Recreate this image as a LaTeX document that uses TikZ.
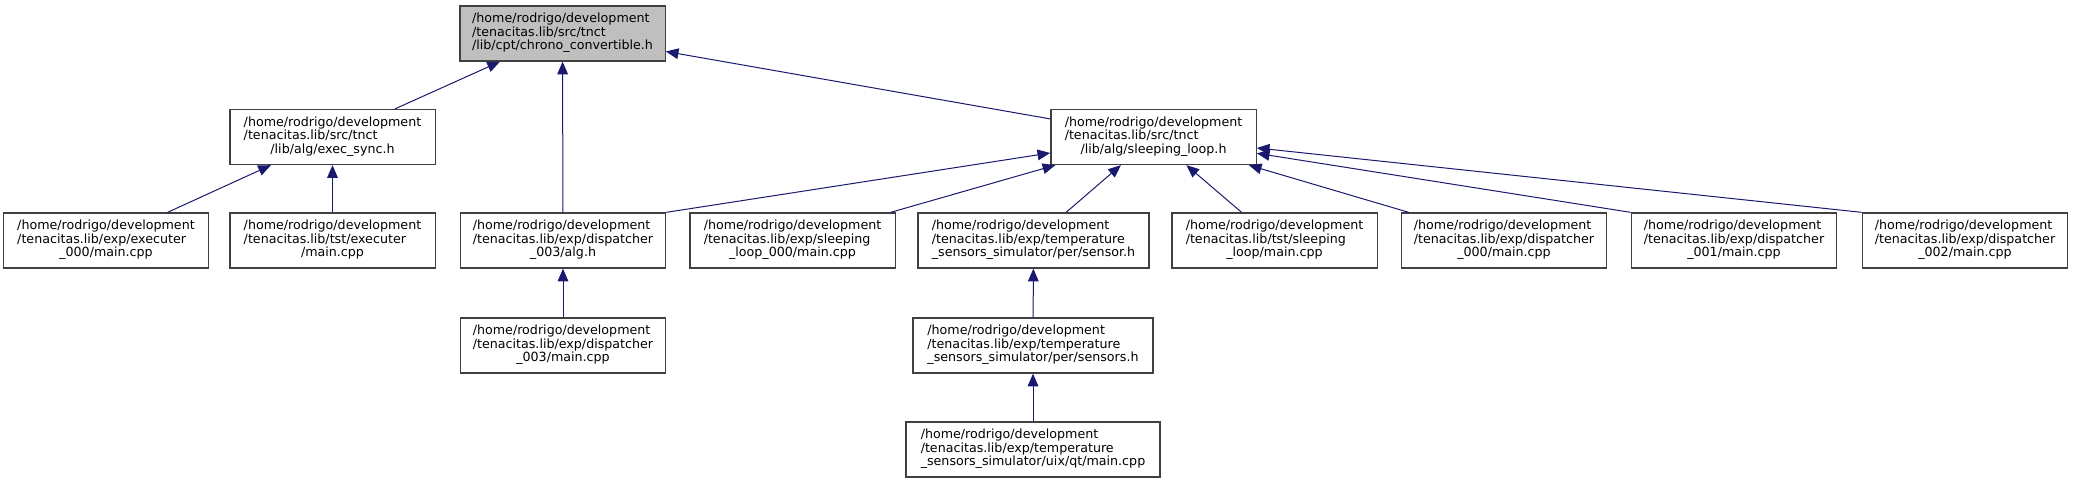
\documentclass[tikz,border=0pt]{standalone}
\usepackage{fontspec}
\setmainfont{DejaVu Sans}
\usepackage{tikz}
\usetikzlibrary{positioning, arrows.meta}

\definecolor{midnightblue}{HTML}{191970}
\definecolor{grey25}{HTML}{404040}
\definecolor{grey75}{HTML}{BFBFBF}

% three line file label: two left lines, last line centred
\newcommand{\flbl}[3]{\begin{tabular}{@{}l@{}}#1\\#2\\\multicolumn{1}{@{}c@{}}{#3}\end{tabular}}
\newcommand{\hm}{/home/rodrigo/development}

\begin{document}
\begin{tikzpicture}[
  x=0.75pt, y=-0.75pt,
  font=\fontsize{9.5}{9.6}\selectfont,
  file/.style={rectangle, draw=grey25, line width=1pt, fill=white, minimum width=154pt, minimum height=41.25pt, inner xsep=3pt, inner ysep=1pt},
  rootfile/.style={file, fill=grey75},
  dep/.style={draw=midnightblue, line width=0.75pt, -{Triangle[length=9.5pt, width=8pt]}}
]
  \useasboundingbox (0,0) rectangle (2074,483);

  % top
  \node[rootfile] (root) at (562.5,33.5) {\flbl{\hm}{/tenacitas.lib/src/tnct}{/lib/cpt/chrono\_convertible.h}};

  % second row
  \node[file] (execsync) at (332.5,137) {\flbl{\hm}{/tenacitas.lib/src/tnct}{/lib/alg/exec\_sync.h}};
  \node[file] (sleeploop) at (1153.5,137) {\flbl{\hm}{/tenacitas.lib/src/tnct}{/lib/alg/sleeping\_loop.h}};

  % third row
  \node[file] (exec000) at (106,240.5) {\flbl{\hm}{/tenacitas.lib/exp/executer}{\_000/main.cpp}};
  \node[file] (tstexec) at (332.5,240.5) {\flbl{\hm}{/tenacitas.lib/tst/executer}{/main.cpp}};
  \node[file] (alg003) at (563,240.5) {\flbl{\hm}{/tenacitas.lib/exp/dispatcher}{\_003/alg.h}};
  \node[file] (sleep000) at (792.5,240.5) {\flbl{\hm}{/tenacitas.lib/exp/sleeping}{\_loop\_000/main.cpp}};
  \node[file, minimum width=173.25pt] (sensor) at (1033.5,240.5) {\flbl{\hm}{/tenacitas.lib/exp/temperature}{\_sensors\_simulator/per/sensor.h}};
  \node[file] (tstsleep) at (1274.5,240.5) {\flbl{\hm}{/tenacitas.lib/tst/sleeping}{\_loop/main.cpp}};
  \node[file] (disp000) at (1504,240.5) {\flbl{\hm}{/tenacitas.lib/exp/dispatcher}{\_000/main.cpp}};
  \node[file] (disp001) at (1734,240.5) {\flbl{\hm}{/tenacitas.lib/exp/dispatcher}{\_001/main.cpp}};
  \node[file] (disp002) at (1965,240.5) {\flbl{\hm}{/tenacitas.lib/exp/dispatcher}{\_002/main.cpp}};

  % lower rows
  \node[file] (main003) at (563,345.5) {\flbl{\hm}{/tenacitas.lib/exp/dispatcher}{\_003/main.cpp}};
  \node[file, minimum width=180pt] (sensors) at (1033,345.5) {\flbl{\hm}{/tenacitas.lib/exp/temperature}{\_sensors\_simulator/per/sensors.h}};
  \node[file, minimum width=190.5pt] (qtmain) at (1033,449.5) {\flbl{\hm}{/tenacitas.lib/exp/temperature}{\_sensors\_simulator/uix/qt/main.cpp}};

  % includes
  \draw[dep] (execsync) -- (root);
  \draw[dep] (alg003) -- (root);
  \draw[dep] (sleeploop) -- (root);
  \draw[dep] (exec000) -- (execsync);
  \draw[dep] (tstexec) -- (execsync);
  \draw[dep] (alg003.north east) -- (sleeploop);
  \draw[dep] (sleep000) -- (sleeploop);
  \draw[dep] (sensor) -- (sleeploop);
  \draw[dep] (tstsleep) -- (sleeploop);
  \draw[dep] (disp000) -- (sleeploop);
  \draw[dep] (disp001.north west) -- (sleeploop);
  \draw[dep] (disp002.north west) -- (sleeploop);
  \draw[dep] (main003) -- (alg003);
  \draw[dep] (sensors) -- (sensor);
  \draw[dep] (qtmain) -- (sensors);
\end{tikzpicture}
\end{document}
